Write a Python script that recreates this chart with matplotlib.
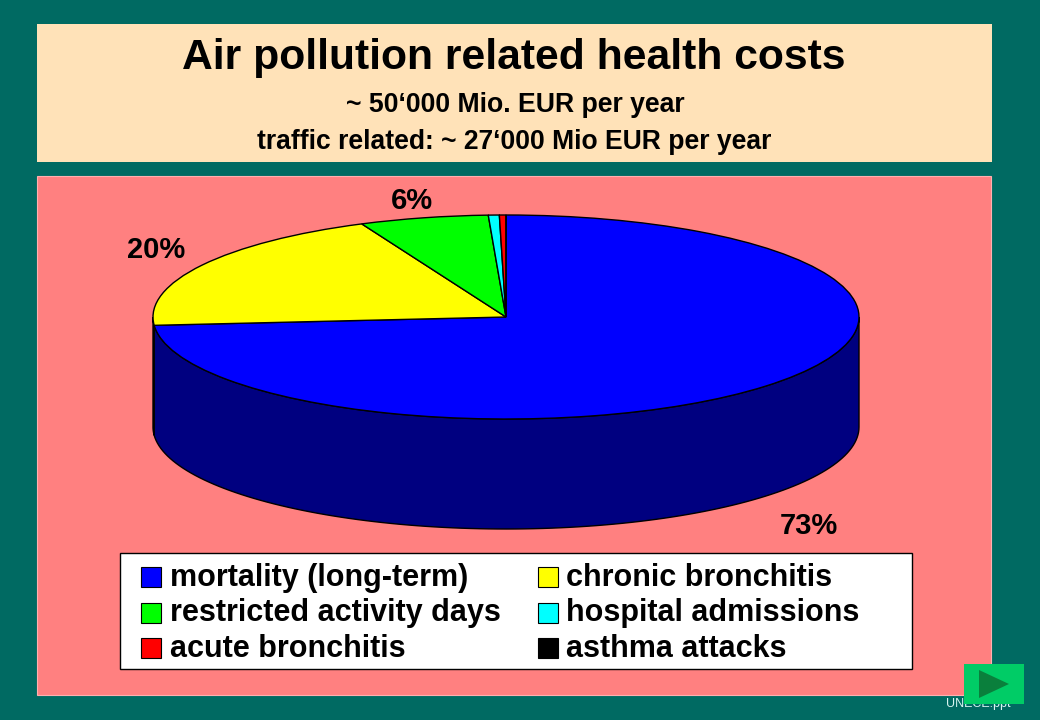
import matplotlib
matplotlib.use("Agg")
import matplotlib.pyplot as plt
from matplotlib.patches import Rectangle, Polygon
import numpy as np

plt.rcParams['font.family'] = ['Liberation Sans', 'DejaVu Sans']

# data
categories = ["mortality (long-term)", "chronic bronchitis",
              "restricted activity days", "hospital admissions",
              "acute bronchitis", "asthma attacks"]
shares = [73.7, 19.6, 5.9, 0.5, 0.3, 0.0]
top_colors = ["#0000ff", "#ffff00", "#00ff00", "#00ffff", "#ff0000", "#000000"]
side_colors = ["#000080", "#808000", "#008000", "#008080", "#800000", "#000000"]
pct_labels = ["73%", "20%", "6%"]
title = "Air pollution related health costs"
subtitle1 = "~ 50‘000 Mio. EUR per year"
subtitle2 = "traffic related: ~ 27‘000 Mio EUR per year"
source = "UNECE.ppt"

TEAL = "#006a62"
CREAM = "#ffe2b8"
PINK = "#ff8080"

W, H = 1040, 720
fig = plt.figure(figsize=(W / 100, H / 100), dpi=100, facecolor=TEAL)

# page axes in pixel coordinates
bg = fig.add_axes([0, 0, 1, 1])
bg.set_xlim(0, W)
bg.set_ylim(H, 0)
bg.axis("off")
bg.add_patch(Rectangle((37, 24), 955, 138, fc=CREAM, ec="none"))
bg.add_patch(Rectangle((37, 176), 954, 519, fc=PINK, ec="#ffb0b0", lw=0.8))

bg.text(514, 58, title, ha="center", va="center", fontsize=30.7, fontweight="bold", color="black")
bg.text(515, 105, subtitle1, ha="center", va="center", fontsize=19.2, fontweight="bold", color="black")
bg.text(514, 142, subtitle2, ha="center", va="center", fontsize=19.1, fontweight="bold", color="black")

# percent labels
for lab, x, y in zip(pct_labels, [809, 156, 412], [526, 250, 201]):
    bg.text(x, y, lab, ha="center", va="center", fontsize=21, fontweight="bold", color="black")

# pie: squashed to an ellipse, with the wall hanging under it
depth = 110 / 102
left, right, top, bottom = 153, 859, 215, 419 + 110
pie_ax = fig.add_axes([left / W, 1 - bottom / H, (right - left) / W, (bottom - top) / H])
pie_ax.patch.set_visible(False)
wedges, _ = pie_ax.pie(shares, colors=top_colors, startangle=90, counterclock=False,
                       wedgeprops=dict(edgecolor="black", linewidth=1.0, clip_on=False))
pie_ax.set_aspect("auto")
pie_ax.set_xlim(-1, 1)
pie_ax.set_ylim(-1 - depth, 1)

# side wall, only the front half shows
start = 0.0
total = sum(shares)
for val, col in zip(shares, side_colors):
    a0 = start
    a1 = start + val / total * 360
    start = a1
    # angle clockwise from top, front part is 90..270
    lo, hi = max(a0, 90), min(a1, 270)
    if hi <= lo:
        continue
    t = np.radians(np.linspace(lo, hi, 120))
    xs = np.sin(t)
    ys = np.cos(t)
    pts = np.concatenate([np.column_stack([xs, ys]),
                          np.column_stack([xs[::-1], ys[::-1] - depth])])
    pie_ax.add_patch(Polygon(pts, closed=True, fc=col, ec="black", lw=1.0, zorder=0.5, clip_on=False))

# legend box drawn by hand
bg.add_patch(Rectangle((119.5, 552.5), 792, 116, fc="white", ec="black", lw=1.0, zorder=3))
for i, (name, col) in enumerate(zip(categories, top_colors)):
    row = i // 2
    cx = 141 + (i % 2) * 397
    cy = 577 + row * 35.5
    bg.add_patch(Rectangle((cx, cy - 10), 20, 20, fc=col, ec="black", lw=0.8, zorder=4))
    bg.text(cx + 29 - (i % 2), cy + 1, name, ha="left", va="center", fontsize=22,
            fontweight="bold", color="black", zorder=4)

# next button and source
bg.text(978, 704, source, ha="center", va="center", fontsize=9, color="#d8f5f0", zorder=2)
bg.add_patch(Rectangle((964, 664), 60, 40, fc="#00cc66", ec="none", zorder=5))
bg.add_patch(Polygon([[979, 670], [979, 698], [1009, 684]], closed=True, fc="#0a7f3c", ec="none", zorder=6))

fig.savefig("out.png", dpi=100, facecolor=fig.get_facecolor())
